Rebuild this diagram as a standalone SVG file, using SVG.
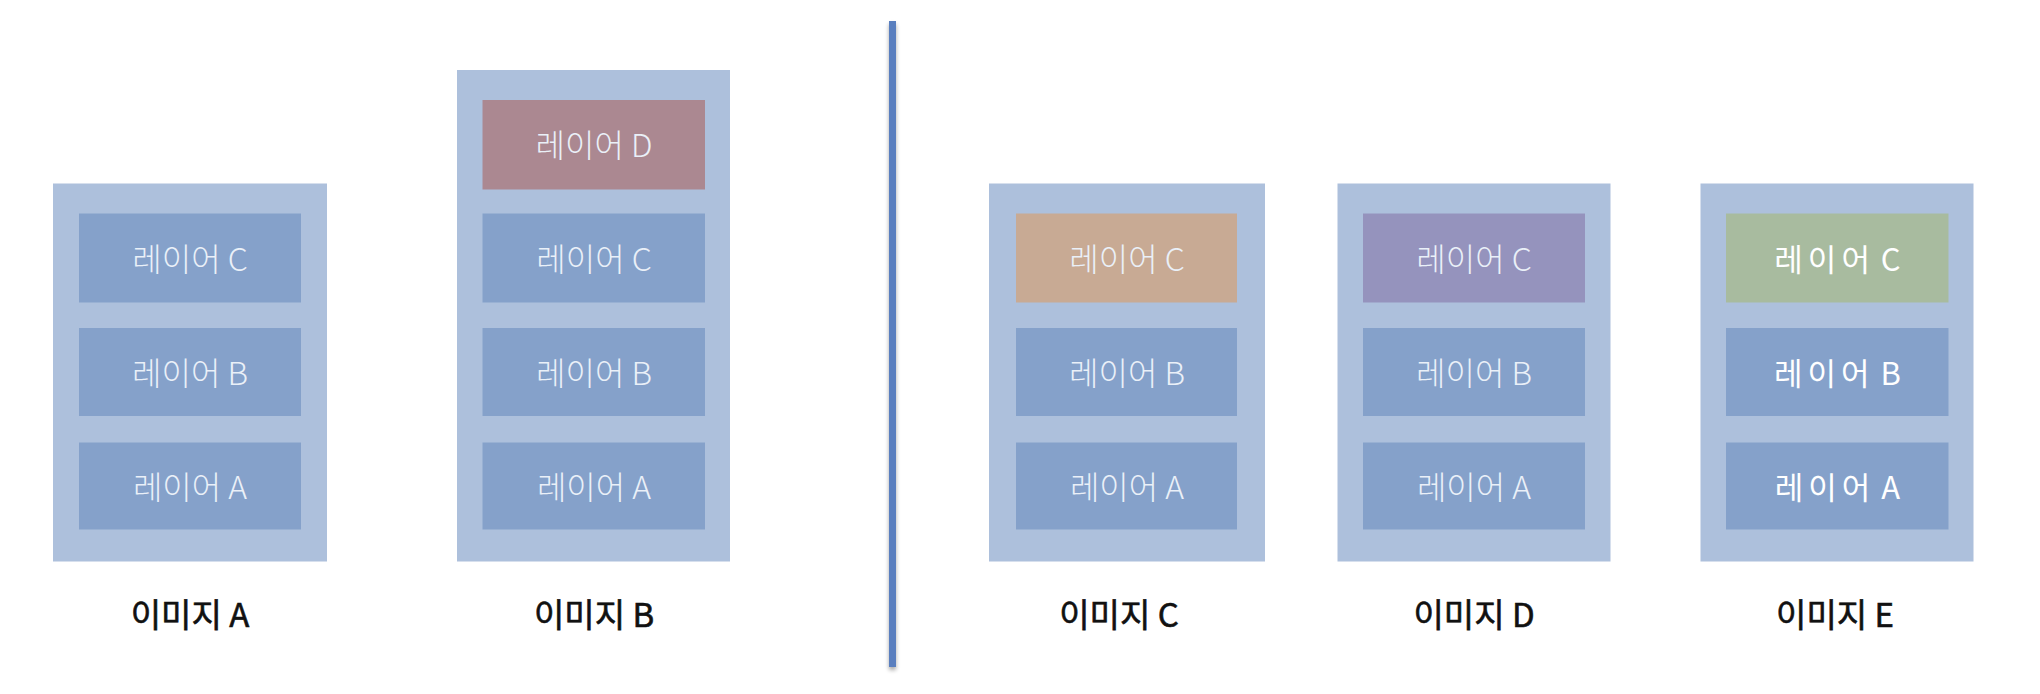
<svg xmlns="http://www.w3.org/2000/svg" width="2040" height="694" viewBox="0 0 2040 694">
<style>
.outer{fill:#adc0dc}
.layer{fill:#85a1ca}
.lt{font-family:"Noto Sans CJK KR","Noto Sans",sans-serif;font-size:32px;fill:#eaf0f8;text-anchor:middle;font-weight:300}
.lt2{font-family:"Noto Sans CJK KR","Noto Sans",sans-serif;font-size:31px;fill:#ffffff;text-anchor:middle;letter-spacing:5px;word-spacing:-6px}
.lbl{font-family:"Noto Sans CJK KR","Noto Sans",sans-serif;font-size:33px;fill:#111111;text-anchor:middle;stroke:#111111;stroke-width:0.6}
</style>
<defs>
<filter id="sh" x="-200%" y="-5%" width="500%" height="110%">
<feGaussianBlur in="SourceAlpha" stdDeviation="2"/>
<feOffset dx="0" dy="3" result="b"/>
<feComponentTransfer><feFuncA type="linear" slope="0.35"/></feComponentTransfer>
<feMerge><feMergeNode/><feMergeNode in="SourceGraphic"/></feMerge>
</filter>
</defs>
<rect width="2040" height="694" fill="#ffffff"/>
<g id="connectors">
<rect x="889" y="21" width="7" height="646" fill="#5a7fbf" filter="url(#sh)"/>
</g>
<g id="imageA">
<rect class="outer" x="53" y="183.5" width="274" height="378"/>
<rect class="layer" x="79" y="213.5" width="222" height="89"/>
<text class="lt" x="190" y="271">레이어 C</text>
<rect class="layer" x="79" y="328" width="222" height="88"/>
<text class="lt" x="190" y="385">레이어 B</text>
<rect class="layer" x="79" y="442.5" width="222" height="87"/>
<text class="lt" x="190" y="499">레이어 A</text>
<text class="lbl" x="190" y="627">이미지 A</text>
</g>
<g id="imageB">
<rect class="outer" x="457" y="70" width="273" height="491.5"/>
<rect x="482.5" y="100" width="222.5" height="89.5" fill="#ab8891"/>
<text class="lt" x="594" y="157">레이어 D</text>
<rect class="layer" x="482.5" y="213.5" width="222.5" height="89"/>
<text class="lt" x="594" y="271">레이어 C</text>
<rect class="layer" x="482.5" y="328" width="222.5" height="88"/>
<text class="lt" x="594" y="385">레이어 B</text>
<rect class="layer" x="482.5" y="442.5" width="222.5" height="87"/>
<text class="lt" x="594" y="499">레이어 A</text>
<text class="lbl" x="594" y="627">이미지 B</text>
</g>
<g id="imageC">
<rect class="outer" x="989" y="183.5" width="276" height="378"/>
<rect x="1016" y="213.5" width="221" height="89" fill="#c8aa94"/>
<text class="lt" x="1127" y="271">레이어 C</text>
<rect class="layer" x="1016" y="328" width="221" height="88"/>
<text class="lt" x="1127" y="385">레이어 B</text>
<rect class="layer" x="1016" y="442.5" width="221" height="87"/>
<text class="lt" x="1127" y="499">레이어 A</text>
<text class="lbl" x="1119" y="627">이미지 C</text>
</g>
<g id="imageD">
<rect class="outer" x="1337.5" y="183.5" width="273" height="378"/>
<rect x="1363" y="213.5" width="222" height="89" fill="#9593bd"/>
<text class="lt" x="1474" y="271">레이어 C</text>
<rect class="layer" x="1363" y="328" width="222" height="88"/>
<text class="lt" x="1474" y="385">레이어 B</text>
<rect class="layer" x="1363" y="442.5" width="222" height="87"/>
<text class="lt" x="1474" y="499">레이어 A</text>
<text class="lbl" x="1474" y="627">이미지 D</text>
</g>
<g id="imageE">
<rect class="outer" x="1700.5" y="183.5" width="273" height="378"/>
<rect x="1726" y="213.5" width="222.5" height="89" fill="#a8bb9f"/>
<text class="lt2" x="1840" y="271">레이어 C</text>
<rect class="layer" x="1726" y="328" width="222.5" height="88"/>
<text class="lt2" x="1840" y="385">레이어 B</text>
<rect class="layer" x="1726" y="442.5" width="222.5" height="87"/>
<text class="lt2" x="1840" y="499">레이어 A</text>
<text class="lbl" x="1835" y="627">이미지 E</text>
</g>
</svg>
